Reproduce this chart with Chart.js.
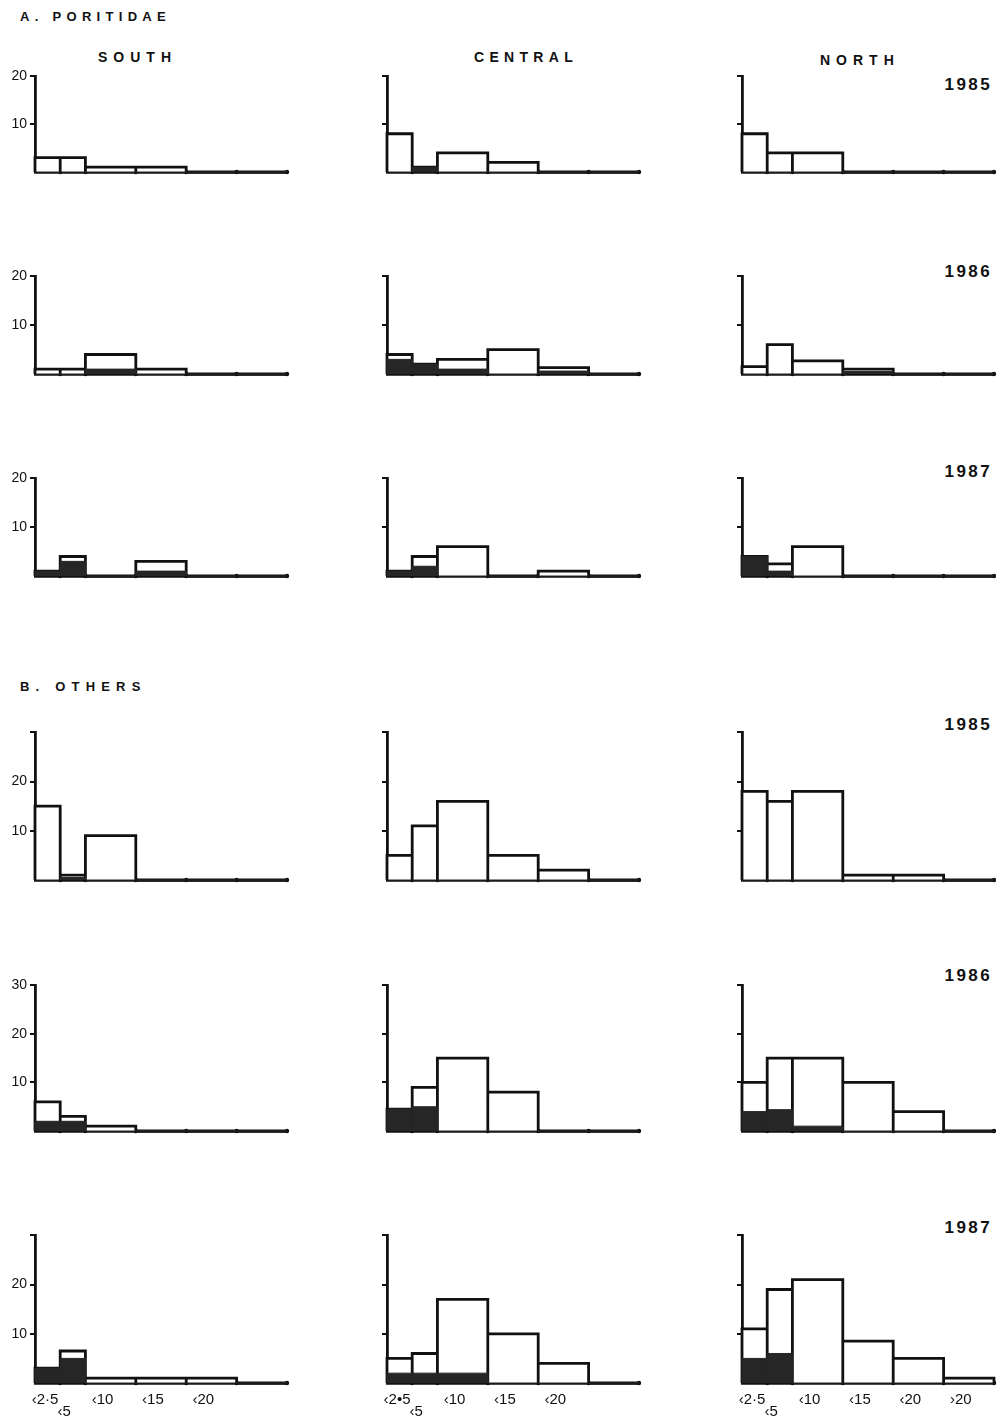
<!DOCTYPE html>
<html lang="en">
<head>
<meta charset="UTF-8">
<title>Colony size classes - Poritidae and others</title>
<script src="https://cdn.jsdelivr.net/npm/chart.js"></script>
<style>
  body { margin: 0; background: #fff; }
  #page { position: relative; width: 1000px; height: 1422px; font-family: "Liberation Sans", Arial, sans-serif; color: #111; }
  #page canvas { position: absolute; }
  .txt { position: absolute; white-space: nowrap; transform: translateY(-50%); font-weight: bold; }
</style>
</head>
<body>
<div id="page"></div>
<script>
// size classes (bin edges) and their labels
const binEdges = [0, 2.5, 5, 10, 15, 20, 25];
const sizeLabels = ['‹2·5', '‹5', '‹10', '‹15', '‹20', '›20'];
const sizeLabelsCentral = ['‹2•5', '‹5', '‹10', '‹15', '‹20'];
const years = ['1985', '1986', '1987'];
const regions = ['SOUTH', 'CENTRAL', 'NORTH'];

// A. Poritidae: all colonies / dark part, one row per year (1985, 1986, 1987)
const poritidaeSouth = [[3, 3, 1, 1, 0, 0], [1, 1, 4, 1, 0, 0], [1, 4, 0, 3, 0, 0]];
const poritidaeSouthDark = [[0, 0, 0, 0, 0, 0], [0, 0, 1, 0, 0, 0], [1, 3, 0, 1, 0, 0]];
const poritidaeCentral = [[8, 1, 4, 2, 0, 0], [4, 2, 3, 5, 1.3, 0], [1, 4, 6, 0, 1, 0]];
const poritidaeCentralDark = [[0, 1, 0, 0, 0, 0], [3, 2, 1, 0, 0.6, 0], [1, 2, 0, 0, 0, 0]];
const poritidaeNorth = [[8, 4, 4, 0, 0, 0], [1.5, 6, 2.7, 1, 0, 0], [4, 2.5, 6, 0, 0, 0]];
const poritidaeNorthDark = [[0, 0, 0, 0, 0, 0], [0, 0, 0, 0.5, 0, 0], [4, 1, 0, 0, 0, 0]];

// B. Others
const othersSouth = [[15, 1, 9, 0, 0, 0], [6, 3, 1, 0, 0, 0], [3, 6.5, 1, 1, 1, 0]];
const othersSouthDark = [[0, 0.5, 0, 0, 0, 0], [2, 2, 0, 0, 0, 0], [3, 5, 0, 0, 0, 0]];
const othersCentral = [[5, 11, 16, 5, 2, 0], [4.5, 9, 15, 8, 0, 0], [5, 6, 17, 10, 4, 0]];
const othersCentralDark = [[0, 0, 0, 0, 0, 0], [4.5, 5, 0, 0, 0, 0], [2, 2, 2, 0, 0, 0]];
const othersNorth = [[18, 16, 18, 1, 1, 0], [10, 15, 15, 10, 4, 0], [11, 19, 21, 8.5, 5, 1]];
const othersNorthDark = [[0, 0, 0, 0, 0, 0], [4, 4.4, 1, 0, 0, 0], [5, 6, 0, 0, 0, 0]];

// y tick labels shown on the south panels
const yLabelsA = [10, 20];
const yLabelsB = [[10, 20], [10, 20, 30], [10, 20]];

// layout
const colX = [35, 387, 742];
const plotW = 252;
const rowsA = [[73, 172], [273, 374], [475, 576]];
const rowsB = [[729, 880], [982, 1131], [1232, 1383]];
const labelAt = [1.0, 2.9, 6.7, 11.7, 16.7, 21.7];

const page = document.getElementById('page');

function text(str, x, y, css) {
  const d = document.createElement('div');
  d.className = 'txt';
  d.textContent = str;
  d.style.left = x + 'px';
  d.style.top = y + 'px';
  Object.assign(d.style, css || {});
  page.appendChild(d);
  return d;
}

// rectangle outlines of all bins as one path
function outline(values) {
  const pts = [];
  values.forEach((v, i) => {
    const a = binEdges[i], b = binEdges[i + 1];
    pts.push({x: a, y: 0});
    if (v > 0) pts.push({x: a, y: v}, {x: b, y: v});
    pts.push({x: b, y: 0});
  });
  return pts;
}

function panel(left, top, zero, yMax, total, dark, yShown, xLabels) {
  const padTop = 8, padRight = 10, yW = 40, xH = xLabels ? 44 : 16;
  const w = yW + plotW + padRight, h = padTop + (zero - top) + xH;
  const cv = document.createElement('canvas');
  cv.width = w; cv.height = h;
  cv.style.left = (left - yW) + 'px';
  cv.style.top = (top - padTop) + 'px';
  page.appendChild(cv);

  new Chart(cv, {
    type: 'line',
    data: {
      datasets: [
        {data: outline(dark), fill: 'origin', backgroundColor: '#262626', borderColor: '#262626',
         borderWidth: 1, pointRadius: 0, clip: false},
        {data: outline(total), fill: 'origin', backgroundColor: '#fff', borderColor: '#111',
         borderWidth: 2.8, pointRadius: 0, clip: false},
        {data: binEdges.slice(1).map(x => ({x: x, y: 0})), showLine: false, pointRadius: 2.2,
         pointBackgroundColor: '#111', pointBorderWidth: 0, clip: false}
      ]
    },
    options: {
      responsive: false,
      animation: false,
      layout: {padding: {top: padTop, right: padRight, left: 0, bottom: 0}},
      plugins: {legend: {display: false}, tooltip: {enabled: false}},
      scales: {
        x: {
          type: 'linear', min: 0, max: 25,
          afterFit: s => { s.height = xH; },
          afterBuildTicks: s => { s.ticks = labelAt.slice(0, xLabels ? xLabels.length : 0).map(v => ({value: v})); },
          grid: {display: false},
          border: {color: '#111', width: 2.8},
          ticks: {
            display: !!xLabels, autoSkip: false, maxRotation: 0, padding: 2,
            font: {size: 15, lineHeight: 0.85}, color: '#111',
            callback: (v, i) => !xLabels ? '' : (i === 1 ? ['', xLabels[i]] : xLabels[i])
          }
        },
        y: {
          min: 0, max: yMax,
          afterFit: s => { s.width = yW; },
          ticks: {stepSize: 10, padding: 3, font: {size: 14}, color: '#111',
                  callback: v => (yShown && yShown.includes(v)) ? String(v) : ''},
          grid: {drawOnChartArea: false, tickLength: 5, lineWidth: 2,
                 color: c => (c.tick && c.tick.value === 0) ? 'rgba(0,0,0,0)' : '#111'},
          border: {color: '#111', width: 2.8}
        }
      }
    }
  });
}

// headings
text('A. PORITIDAE', 20, 16, {fontSize: '13px', letterSpacing: '5.3px'});
text('B. OTHERS', 20, 686, {fontSize: '13px', letterSpacing: '6.2px'});
text(regions[0], 98, 57, {fontSize: '14px', letterSpacing: '6px'});
text(regions[1], 474, 57, {fontSize: '14px', letterSpacing: '5.3px'});
text(regions[2], 820, 60, {fontSize: '14px', letterSpacing: '6px'});

const yearY = [85, 272, 472, 725, 976, 1228];
yearY.forEach((y, i) => {
  const d = text(years[i % 3], 0, y, {fontSize: '17px', letterSpacing: '2.4px'});
  d.style.left = 'auto';
  d.style.right = '8px';
});

const groupA = [[poritidaeSouth, poritidaeSouthDark], [poritidaeCentral, poritidaeCentralDark], [poritidaeNorth, poritidaeNorthDark]];
const groupB = [[othersSouth, othersSouthDark], [othersCentral, othersCentralDark], [othersNorth, othersNorthDark]];

for (let c = 0; c < 3; c++) {
  for (let r = 0; r < 3; r++) {
    panel(colX[c], rowsA[r][0], rowsA[r][1], 20, groupA[c][0][r], groupA[c][1][r],
          c === 0 ? yLabelsA : null, null);
    let xl = null;
    if (r === 2) xl = c === 0 ? sizeLabels.slice(0, 5) : (c === 1 ? sizeLabelsCentral : sizeLabels);
    panel(colX[c], rowsB[r][0], rowsB[r][1], 30, groupB[c][0][r], groupB[c][1][r],
          c === 0 ? yLabelsB[r] : null, xl);
  }
}
</script>
</body>
</html>
